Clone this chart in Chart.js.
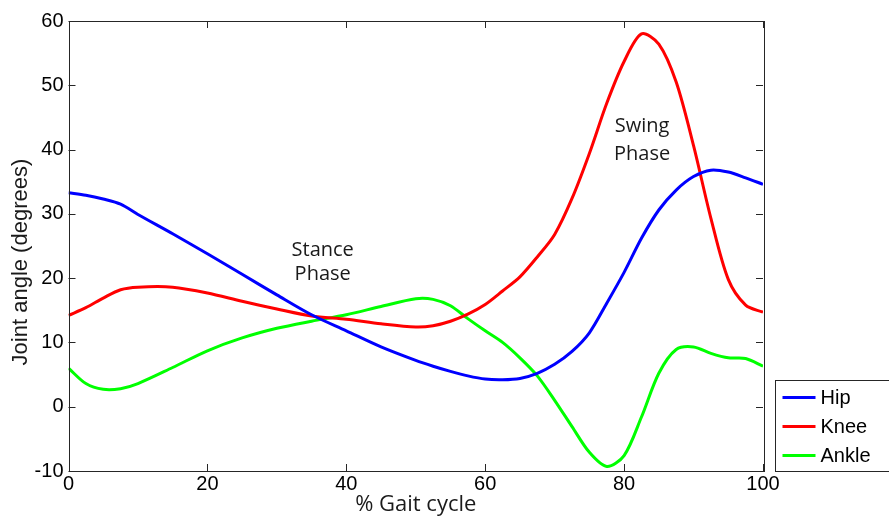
<!DOCTYPE html>
<html lang="en">
<head>
    <meta charset="UTF-8">
    <title>Joint angles over the gait cycle</title>
    <style>
        body {
            margin: 0;
            padding: 0;
            background-color: #ffffff;
        }

        .chart-box {
            width: 889px;
            height: 517px;
        }
    </style>
    <script src="https://cdn.jsdelivr.net/npm/chart.js"></script>
</head>
<body>
    <div class="chart-box">
        <canvas id="gaitChart" width="889" height="517"></canvas>
    </div>

    <script>
        // % of gait cycle where each reading was taken
        const gaitPct = [0, 2.5, 5, 7.5, 10, 15, 20, 25, 30, 35, 40, 45, 50, 52.5, 55, 57.5, 60, 62.5, 65, 67.5,
                         70, 72.5, 75, 77.5, 80, 82.5, 85, 87.5, 90, 92.5, 95, 97.5, 100];

        // joint angles in degrees
        const hipAngle = [33.3, 32.9, 32.3, 31.5, 29.9, 26.9, 23.8, 20.6, 17.4, 14.3, 11.8, 9.3, 7.2, 6.3, 5.5, 4.8, 4.3, 4.2, 4.4, 5.2,
                          6.6, 8.6, 11.5, 16.1, 20.9, 26.2, 30.6, 33.7, 35.8, 36.8, 36.5, 35.6, 34.6];
        const kneeAngle = [14.2, 15.4, 16.9, 18.2, 18.6, 18.6, 17.7, 16.4, 15.2, 14.1, 13.6, 12.9, 12.4, 12.6, 13.3, 14.4, 15.9, 18.0, 20.2, 23.3,
                           26.8, 32.4, 39.4, 47.2, 53.7, 58.0, 56.4, 50.5, 40.6, 29.3, 19.8, 15.8, 14.7];
        const ankleAngle = [6.0, 3.6, 2.7, 2.8, 3.6, 6.1, 8.7, 10.7, 12.2, 13.3, 14.3, 15.6, 16.8, 16.7, 15.7, 13.7, 11.8, 10.0, 7.6, 4.8,
                            1.0, -3.1, -7.1, -9.3, -7.6, -1.6, 5.2, 8.9, 9.3, 8.3, 7.6, 7.5, 6.3];

        const seriesNames = ['Hip', 'Knee', 'Ankle'];
        const seriesColors = ['#0000ff', '#ff0000', '#00ff00'];

        const xTicks = [0, 20, 40, 60, 80, 100];
        const yTicks = [-10, 0, 10, 20, 30, 40, 50, 60];

        // phase labels: [x %, y deg, text]
        const phaseNotes = [
            [36.6, 24.4, 'Stance'], [36.6, 20.6, 'Phase'],
            [82.6, 43.6, 'Swing'], [82.6, 39.3, 'Phase']
        ];

        const yTitle = 'Joint angle (degrees)';

        const numFont = '"Liberation Sans", Arial, sans-serif';
        const textFont = '"Open Sans", sans-serif';

        function toPoints(vals) {
            return gaitPct.map((p, i) => ({ x: p, y: vals[i] }));
        }

        const allSeries = [hipAngle, kneeAngle, ankleAngle];

        // matlab style box with inward ticks, notes and the legend outside
        const matlabBox = {
            id: 'matlabBox',
            afterDatasetsDraw(chart) {
                const ctx = chart.ctx;
                const area = chart.chartArea;
                const xs = chart.scales.x;
                const ys = chart.scales.y;
                const tickLen = 7;

                ctx.save();
                ctx.strokeStyle = '#262626';
                ctx.lineWidth = 1;
                ctx.beginPath();
                xTicks.forEach(t => {
                    const px = Math.round(xs.getPixelForValue(t)) + 0.5;
                    ctx.moveTo(px, area.bottom);
                    ctx.lineTo(px, area.bottom - tickLen);
                    ctx.moveTo(px, area.top);
                    ctx.lineTo(px, area.top + tickLen);
                });
                yTicks.forEach(t => {
                    const py = Math.round(ys.getPixelForValue(t)) + 0.5;
                    ctx.moveTo(area.left, py);
                    ctx.lineTo(area.left + tickLen, py);
                    ctx.moveTo(area.right, py);
                    ctx.lineTo(area.right - tickLen, py);
                });
                ctx.stroke();
                ctx.strokeRect(Math.round(area.left) + 0.5, Math.round(area.top) + 0.5,
                    Math.round(area.right - area.left), Math.round(area.bottom - area.top));

                // phase notes
                ctx.fillStyle = '#1a1a1a';
                ctx.font = '20px ' + textFont;
                ctx.textAlign = 'center';
                ctx.textBaseline = 'middle';
                phaseNotes.forEach(n => {
                    ctx.fillText(n[2], xs.getPixelForValue(n[0]), ys.getPixelForValue(n[1]));
                });

                // y title, sits a bit below the axis middle like the original
                ctx.save();
                ctx.translate(21, ys.getPixelForValue(22.5));
                ctx.rotate(-Math.PI / 2);
                ctx.font = '22px ' + numFont;
                ctx.fillStyle = '#1a1a1a';
                ctx.fillText(yTitle, 0, 0);
                ctx.restore();

                // legend
                const lx = Math.round(area.right) + 12.5;
                const ly = Math.round(area.bottom) - 90.5;
                ctx.fillStyle = '#ffffff';
                ctx.fillRect(lx, ly, 130, 91);
                ctx.strokeStyle = '#262626';
                ctx.strokeRect(lx, ly, 130, 91);
                ctx.font = '20px ' + numFont;
                ctx.textAlign = 'left';
                ctx.fillStyle = '#000000';
                seriesNames.forEach((name, i) => {
                    const rowY = ly + 17 + i * 29;
                    ctx.strokeStyle = seriesColors[i];
                    ctx.lineWidth = 3;
                    ctx.beginPath();
                    ctx.moveTo(lx + 7, rowY);
                    ctx.lineTo(lx + 40, rowY);
                    ctx.stroke();
                    ctx.fillText(name, lx + 45, rowY + 1);
                });
                ctx.restore();
            }
        };

        document.addEventListener('DOMContentLoaded', function () {
            const ctx = document.getElementById('gaitChart').getContext('2d');
            new Chart(ctx, {
                type: 'line',
                data: {
                    datasets: allSeries.map((vals, i) => ({
                        label: seriesNames[i],
                        data: toPoints(vals),
                        borderColor: seriesColors[i],
                        borderWidth: 3,
                        pointRadius: 0,
                        tension: 0.3,
                        fill: false
                    }))
                },
                options: {
                    responsive: false,
                    animation: false,
                    events: [],
                    layout: {
                        padding: { top: 21, right: 126, bottom: 0, left: 0 }
                    },
                    plugins: {
                        legend: { display: false },
                        tooltip: { enabled: false }
                    },
                    scales: {
                        x: {
                            type: 'linear',
                            min: 0,
                            max: 100,
                            afterBuildTicks(scale) {
                                scale.ticks = xTicks.map(v => ({ value: v }));
                            },
                            afterFit(scale) {
                                scale.height = 46;
                            },
                            grid: { display: false, drawTicks: false },
                            border: { display: false },
                            ticks: {
                                padding: 1,
                                color: '#000000',
                                font: { family: numFont, size: 20 }
                            },
                            title: {
                                display: true,
                                text: '% Gait cycle',
                                color: '#1a1a1a',
                                padding: { top: 0, bottom: -1 },
                                font: { family: textFont, size: 22 }
                            }
                        },
                        y: {
                            min: -10,
                            max: 60,
                            afterBuildTicks(scale) {
                                scale.ticks = yTicks.map(v => ({ value: v }));
                            },
                            afterFit(scale) {
                                scale.width = 68.5;
                            },
                            grid: { display: false, drawTicks: false },
                            border: { display: false },
                            ticks: {
                                padding: 5,
                                color: '#000000',
                                font: { family: numFont, size: 20 }
                            },
                            title: { display: false }
                        }
                    }
                },
                plugins: [matlabBox]
            });
        });
    </script>
</body>
</html>
